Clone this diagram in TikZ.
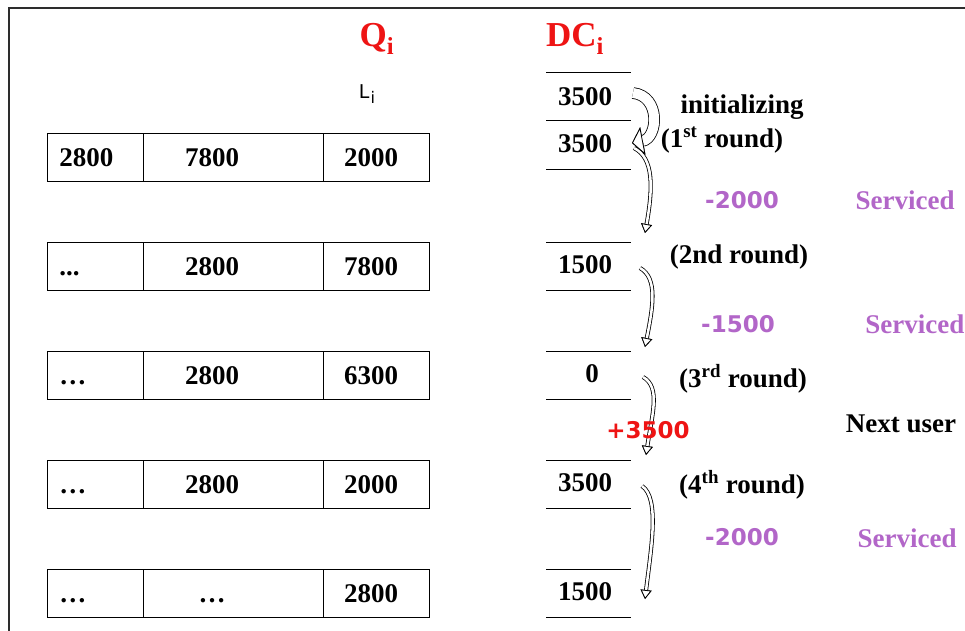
\documentclass[tikz,border=0pt]{standalone}
\usepackage{fontspec}
\setmainfont{Liberation Serif}
\newfontfamily\plainsans{DejaVu Sans}
\usetikzlibrary{arrows.meta}
\usetikzlibrary{positioning}

\definecolor{servicecolour}{RGB}{178,102,200}
\definecolor{framecolour}{RGB}{45,45,45}
\definecolor{headcolour}{RGB}{238,20,20}

\newcommand\linewd{.8pt}
\newcommand\bignum{\fontsize{27}{27}\selectfont\bfseries}
\newcommand\sansnum{\plainsans\fontsize{23}{23}\selectfont\bfseries}
\newcommand\smallsans{\plainsans\fontsize{19}{19}\selectfont}

\tikzstyle{graph}    = [line width=\linewd]
\tikzstyle{entry}    = [font=\bignum, inner sep=0pt, text height=18pt, text depth=0pt]
\tikzstyle{remark}   = [font=\bignum, inner sep=0pt, anchor=base]
\tikzstyle{serviced} = [remark, color=servicecolour]
\tikzstyle{change}   = [font=\sansnum, inner sep=0pt, anchor=base, color=servicecolour]
\tikzstyle{heading}  = [font=\fontsize{35}{35}\selectfont\bfseries, inner sep=0pt, anchor=base, color=headcolour]
\tikzset{
  % outlined (hollow) curved arrows
  hollow/.style n args={3}{draw=white, line width=#1,
    preaction={draw=black, line width=#1+1.6pt},
    -{Triangle[color=black, fill=white, line width=\linewd, length=#2, width=#3]}},
}

\begin{document}
\begin{tikzpicture}[x=1pt,y=-1pt,graph]
  \useasboundingbox (0,0) rectangle (965,630);
  \newcommand\qrow[5]{% top edge, row name, three entries
    \draw (47,#1) rectangle (429,#1+48);
    \draw (143,#1) -- (143,#1+48) (323,#1) -- (323,#1+48);
    \node[entry,anchor=west] (#2a) at (59,#1+24) {#3};
    \node[entry] (#2b) at (212,#1+24) {#4};
    \node[entry] (#2c) at (371,#1+24) {#5};
  }
  % frame
  \draw[framecolour,line width=1.6pt] (9,640) -- (9,8) -- (975,8);

  % headings
  \node[heading] (qi) at (377,46) {Q\textsubscript{i}};
  \node[heading] (dci) at (575,46) {DC\textsubscript{i}};
  \node[font=\smallsans, inner sep=0pt, anchor=base] (li) at (367,98)
    {L\kern1pt\raisebox{-5pt}{\fontsize{16}{16}\selectfont i}};

  % queue contents per round
  \qrow{133}{qa}{2800}{7800}{2000}
  \qrow{242}{qb}{...}{2800}{7800}
  \qrow{351}{qc}{…}{2800}{6300}
  \qrow{460}{qd}{…}{2800}{2000}
  \qrow{569}{qe}{…}{…}{2800}

  % deficit counter
  \foreach \y in {72,120,169,242,290,351,399,460,508,569,617}
    \draw (546,\y) -- (631,\y);
  \node[entry] (dca) at (585,96) {3500};
  \node[entry] (dcb) at (585,143) {3500};
  \node[entry] (dcc) at (585,264) {1500};
  \node[entry] (dcd) at (592,373) {0};
  \node[entry] (dce) at (585,482) {3500};
  \node[entry] (dcf) at (585,591) {1500};

  % curved arrows
  \draw[hollow={10pt}{11pt}{28pt}] ([shift={(48,-3)}]dca.center)
    .. controls +(28,3) and +(26,-5) .. ([shift={(47,0)}]dcb.center);
  \draw[hollow={2.5pt}{9pt}{11pt}] ([shift={(49,5)}]dcb.center)
    .. controls +(20,10) and +(8,-45) .. ([shift={(60,-31)}]dcc.center);
  \draw[hollow={2.5pt}{9pt}{11pt}] ([shift={(55,4)}]dcc.center)
    .. controls +(18,10) and +(8,-40) .. ([shift={(53,-26)}]dcd.center);
  \draw[hollow={2.5pt}{9pt}{11pt}] ([shift={(51,4)}]dcd.center)
    .. controls +(18,10) and +(6,-40) .. ([shift={(61,-27)}]dce.center);
  \draw[hollow={2.5pt}{9pt}{11pt}] ([shift={(57,4)}]dce.center)
    .. controls +(18,12) and +(6,-50) .. ([shift={(60,8)}]dcf.center);

  % rounds
  \node[remark] (init) at (742,113) {initializing};
  \node[remark] (rda) at (722,147) {(1\textsuperscript{st} round)};
  \node[remark] (rdb) at (739,263) {(2nd round)};
  \node[remark] (rdc) at (743,387) {(3\textsuperscript{rd} round)};
  \node[remark] (rdd) at (742,493) {(4\textsuperscript{th} round)};
  \node[remark] (next) at (901,432) {Next user};

  % service
  \node[change] (taka) at (742,208) {-2000};
  \node[change] (takb) at (738,332) {-1500};
  \node[change] (takc) at (742,545) {-2000};
  \node[change,color=headcolour] (add) at (648,438) {+3500};
  \node[serviced] (sva) at (905,209) {Serviced};
  \node[serviced,anchor=base west] (svb) at (865,333) {Serviced};
  \node[serviced] (svc) at (907,547) {Serviced};
\end{tikzpicture}
\end{document}
